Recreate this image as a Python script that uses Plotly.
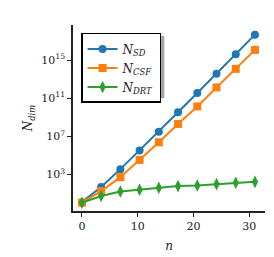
import plotly.graph_objects as go

n_vals = [0.0, 3.44, 6.89, 10.33, 13.78, 17.22, 20.67, 24.11, 27.56, 31.0]
log_sd = [0.10, 1.68, 3.56, 5.51, 7.49, 9.52, 11.54, 13.56, 15.61, 17.67]
log_csf = [0.04, 1.26, 2.72, 4.53, 6.38, 8.30, 10.14, 12.13, 14.08, 16.07]
log_drt = [0.04, 0.74, 1.22, 1.40, 1.61, 1.78, 1.85, 1.99, 2.13, 2.23]
N_sd = [10 ** v for v in log_sd]
N_csf = [10 ** v for v in log_csf]
N_drt = [10 ** v for v in log_drt]

ytick_vals = [1e3, 1e7, 1e11, 1e15]
ytick_text = ["10<sup>3</sup>", "10<sup>7</sup>", "10<sup>11</sup>", "10<sup>15</sup>"]
xtick_vals = [0, 10, 20, 30]

FONT = "DejaVu Serif"

fig = go.Figure()
fig.add_trace(go.Scatter(x=n_vals, y=N_sd, mode="lines+markers",
                         name="<i>N</i><sub><i>SD</i></sub>",
                         line=dict(color="#1f77b4", width=2),
                         marker=dict(symbol="circle", size=8, color="#1f77b4")))
fig.add_trace(go.Scatter(x=n_vals, y=N_csf, mode="lines+markers",
                         name="<i>N</i><sub><i>CSF</i></sub>",
                         line=dict(color="#ff7f0e", width=2),
                         marker=dict(symbol="square", size=8, color="#ff7f0e")))
fig.add_trace(go.Scatter(x=n_vals, y=N_drt, mode="lines+markers",
                         name="<i>N</i><sub><i>DRT</i></sub>",
                         line=dict(color="#2ca02c", width=2),
                         marker=dict(symbol="diamond-tall", size=9, color="#2ca02c")))

# legend shadow
fig.add_shape(type="rect", xref="paper", yref="paper",
              x0=0.057, x1=0.476, y0=0.606, y1=0.941,
              fillcolor="rgba(0,0,0,0.35)", line=dict(width=0), layer="above")

fig.update_layout(
    width=274, height=257,
    margin=dict(l=65, r=17, t=17, b=54),
    paper_bgcolor="white", plot_bgcolor="white",
    font=dict(family=FONT, size=11, color="#222"),
    showlegend=True,
    legend=dict(x=0.042, y=0.957, xanchor="left", yanchor="top",
                bgcolor="white", bordercolor="black", borderwidth=1.5,
                font=dict(family=FONT, size=12), itemwidth=30,
                tracegroupgap=0),
    xaxis=dict(range=[-1.6, 32.8], tickvals=xtick_vals, ticks="outside",
               ticklen=4, tickwidth=1, tickcolor="#222", showline=True,
               linecolor="#222", linewidth=1.5, showgrid=False, zeroline=False,
               automargin=False,
               title=dict(text="<i>n</i>", standoff=10, font=dict(size=12))),
    yaxis=dict(type="log", range=[-0.83, 18.68], tickvals=ytick_vals,
               ticktext=ytick_text, ticks="outside", ticklen=4, tickwidth=1,
               tickcolor="#222", showline=True, linecolor="#222", linewidth=1.5,
               showgrid=False, zeroline=False, automargin=False,
               title=dict(text="<i>N</i><sub><i>dim</i></sub>", standoff=6,
                          font=dict(size=12))),
)

fig.write_html("out.html")
